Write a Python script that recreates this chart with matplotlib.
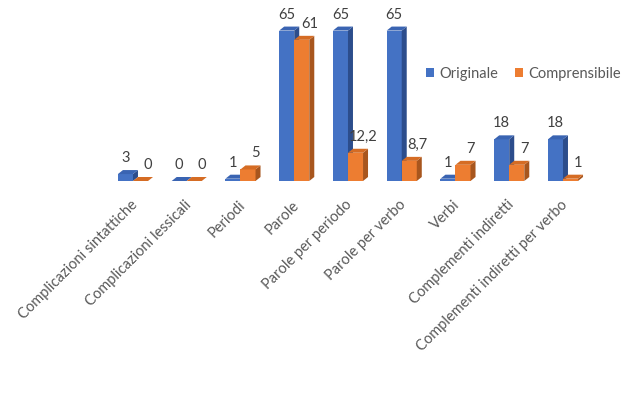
import matplotlib
matplotlib.use("Agg")
import matplotlib.pyplot as plt
from matplotlib.patches import Polygon, Patch

categories = ["Complicazioni sintattiche", "Complicazioni lessicali", "Periodi", "Parole",
              "Parole per periodo", "Parole per verbo", "Verbi", "Complementi indiretti",
              "Complementi indiretti per verbo"]
originale = [3, 0, 1, 65, 65, 65, 1, 18, 18]
comprensibile = [0, 0, 5, 61, 12.2, 8.7, 7, 7, 1]
series_names = ["Originale", "Comprensibile"]

plt.rcParams['font.family'] = ['Lato', 'DejaVu Sans']

W, H = 627, 398
fig = plt.figure(figsize=(W / 100, H / 100), dpi=100)
cat_px = 53.75
ax = fig.add_axes([106.1 / W, 217 / H, 9 * cat_px / W, 162 / H])
ax.set_xlim(-0.5, 8.5)
ax.set_ylim(0, 70)
ax.axis('off')

bw = 0.28
dx = 5 / cat_px
dy = 4 / 2.315

styles = [
    dict(front="#4472C4", top="#3A64B2", side="#2C4D8C"),
    dict(front="#ED7D31", top="#D56C24", side="#A8561E"),
]

FS = 10.5

def fmt(v):
    s = f"{v:g}"
    return s.replace('.', ',')

for si, (vals, st) in enumerate(zip([originale, comprensibile], styles)):
    for i, v in enumerate(vals):
        x0 = i - bw if si == 0 else i
        x1 = x0 + bw
        ax.bar(x0, v, width=bw, align='edge', color=st["front"], zorder=3 + si * 3)
        side = Polygon([(x1, 0), (x1 + dx, dy), (x1 + dx, v + dy), (x1, v)],
                       closed=True, facecolor=st["side"], edgecolor='none', zorder=3 + si * 3)
        top = Polygon([(x0, v), (x1, v), (x1 + dx, v + dy), (x0 + dx, v + dy)],
                      closed=True, facecolor=st["top"], edgecolor='none', zorder=4 + si * 3)
        ax.add_patch(side)
        ax.add_patch(top)
        xoff = 0 if si == 0 else 5.5
        ax.annotate(fmt(v), xy=(x0 + bw / 2, v), xytext=(xoff, 11.5), textcoords='offset points',
                    ha='center', va='center', fontsize=FS, color='#404040', zorder=10)

for i, c in enumerate(categories):
    ax.annotate(c, xy=(i, 0), xytext=(-2, -12), textcoords='offset points',
                rotation=45, rotation_mode='anchor', ha='right', va='top',
                fontsize=FS, color='#595959')

handles = [Patch(facecolor=s["front"], edgecolor='none') for s in styles]
fig.legend(handles, series_names, loc='center left', bbox_to_anchor=(426 / W, 1 - 74 / H),
           bbox_transform=fig.transFigure, ncol=2, frameon=False, fontsize=FS,
           handlelength=0.55, handleheight=0.55, handletextpad=0.4, columnspacing=1.1,
           borderpad=0, borderaxespad=0, labelcolor='#595959')

fig.savefig("out.png", dpi=100)
